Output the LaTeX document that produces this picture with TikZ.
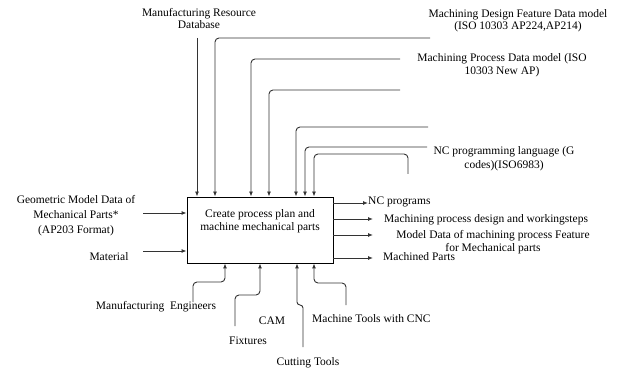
\documentclass[tikz,border=0pt]{standalone}
\usepackage{fontspec}
\setmainfont{Liberation Serif}
\usetikzlibrary{arrows.meta,positioning}

\tikzset{
  lbl/.style={inner sep=0pt,align=center,font=\fontsize{11.5}{13}\selectfont},
  arr/.style={draw=black!80,line width=0.9pt,-{Latex[length=5pt,width=4pt]},rounded corners=4pt},
  procbox/.style={draw,line width=0.9pt,minimum width=146pt,minimum height=66pt,inner sep=0pt}
}

\begin{document}
\begin{tikzpicture}[x=1pt,y=-1pt]
  \useasboundingbox (0,0) rectangle (624,374);

  % activity box
  \node (P) [procbox] at (260,230) {};
  \node (Pt) [lbl] at ([yshift=9pt]P.center) {Create process plan and\\machine mechanical parts};

  % controls (top)
  \node (MRD) [lbl,font=\fontsize{11.5}{12}\selectfont] at (199,19) {Manufacturing Resource\\Database};
  \node (DFM) [lbl,font=\fontsize{11.5}{12}\selectfont] at (518,21) {Machining Design Feature Data model\\(ISO 10303 AP224,AP214)};
  \node (MPD) [lbl] at (502,65) {Machining Process Data model (ISO\\10303 New AP)};
  \node (NCL) [lbl,font=\fontsize{11.5}{14}\selectfont] at (504,159) {NC programming language (G\\codes)(ISO6983)};

  \coordinate (c0) at (197,38);
  \draw[arr] (c0) -- (197,0 |- P.north);
  \foreach \x/\y/\e [count=\i] in {215/38/430, 251/59/400, 269/90/400, 296/127/428, 305/147/427} {
    \coordinate (c\i) at (\e,\y);
    \draw[arr] (c\i) -| (\x,0 |- P.north);
  }
  \coordinate (c6) at (408,174);
  \draw[arr] (c6) -- (408,154) -- (314,154) -- (314,0 |- P.north);

  % inputs (left)
  \node (GMD) [lbl,font=\fontsize{11.5}{15}\selectfont] at (76,216) {Geometric Model Data of\\Mechanical Parts*\\(AP203 Format)};
  \node (MAT) [lbl] at (109,257) {Material};
  \coordinate (i1) at (143,213);
  \coordinate (i2) at (143,251);
  \draw[arr] (i1) -- (i1 -| P.west);
  \draw[arr] (i2) -- (i2 -| P.west);

  % outputs (right)
  \coordinate (o1) at (368,203);
  \coordinate (o2) at (373,219);
  \coordinate (o3) at (373,235);
  \coordinate (o4) at (373,258);
  \foreach \o in {o1,o2,o3,o4}
    \draw[arr] (\o -| P.east) -- (\o);
  \node (NCP) [lbl,anchor=west] at (368,202) {NC programs};
  \node (MPW) [lbl,anchor=west] at (384,220) {Machining process design and workingsteps};
  \node (MDF) [lbl] at (493,242) {Model Data of machining process Feature\\for Mechanical parts};
  \node (MCP) [lbl,anchor=west] at (383,257) {Machined Parts};

  % mechanisms (bottom)
  \node (ENG) [lbl] at (156,307) {Manufacturing\ \ Engineers};
  \node (FIX) [lbl] at (248,341) {Fixtures};
  \node (CAM) [lbl] at (272,321) {CAM};
  \node (CUT) [lbl] at (308,363) {Cutting Tools};
  \node (MTC) [lbl,anchor=west] at (312,319) {Machine Tools with CNC};

  \coordinate (m1) at (193,302);
  \coordinate (m2) at (235,326);
  \coordinate (m3) at (303,347);
  \coordinate (m4) at (346,305);
  \draw[arr] (m1) -- (193,282) -- (225,282) -- (225,0 |- P.south);
  \draw[arr] (m2) -- (235,295) -- (260,295) -- (260,0 |- P.south);
  \draw[arr,rounded corners=3pt] (m3) -- (303,305) -- (297,305) -- (297,0 |- P.south);
  \draw[arr] (m4) -- (346,283) -- (314,283) -- (314,0 |- P.south);
\end{tikzpicture}
\end{document}
